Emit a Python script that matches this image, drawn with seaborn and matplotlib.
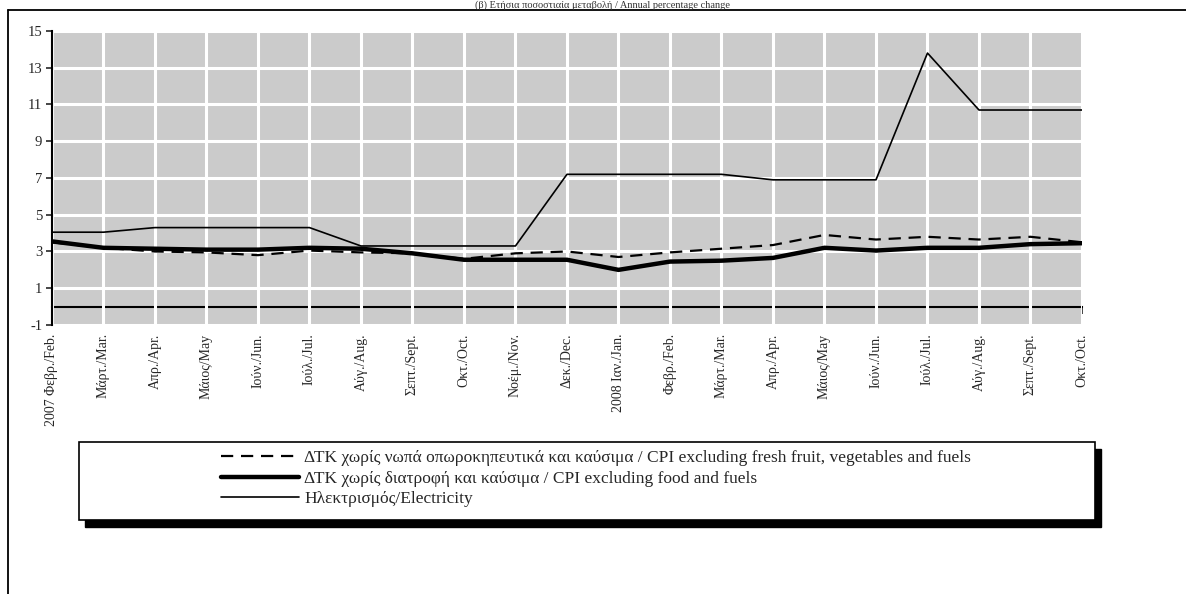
import numpy as np
import pandas as pd
import seaborn as sns
import matplotlib.pyplot as plt
from matplotlib.lines import Line2D
from matplotlib.patches import Rectangle

meses = ["2007 Φεβρ./Feb.", "Μάρτ./Mar.", "Απρ./Apr.", "Μάιος/May", "Ιούν./Jun.",
         "Ιούλ./Jul.", "Αύγ./Aug.", "Σεπτ./Sept.", "Οκτ./Oct.", "Νοέμ./Nov.",
         "Δεκ./Dec.", "2008 Ιαν./Jan.", "Φεβρ./Feb.", "Μάρτ./Mar.", "Απρ./Apr.",
         "Μάιος/May", "Ιούν./Jun.", "Ιούλ./Jul.", "Αύγ./Aug.", "Σεπτ./Sept.", "Οκτ./Oct."]

cpi_sem_frescos = [3.5, 3.2, 3.0, 2.95, 2.8, 3.05, 2.95, 2.9, 2.6, 2.9, 3.0,
                   2.7, 2.95, 3.15, 3.35, 3.9, 3.65, 3.8, 3.65, 3.8, 3.5]
cpi_sem_alimentos = [3.55, 3.2, 3.15, 3.1, 3.1, 3.2, 3.15, 2.9, 2.55, 2.55, 2.55,
                     2.0, 2.45, 2.5, 2.65, 3.2, 3.05, 3.2, 3.2, 3.4, 3.45]
eletricidade = [4.05, 4.05, 4.3, 4.3, 4.3, 4.3, 3.3, 3.3, 3.3, 3.3, 7.2,
                7.2, 7.2, 7.2, 6.9, 6.9, 6.9, 13.8, 10.7, 10.7, 10.7]

nomes = ["ΔΤΚ χωρίς νωπά οπωροκηπευτικά και καύσιμα / CPI excluding fresh fruit, vegetables and fuels",
         "ΔΤΚ χωρίς διατροφή και καύσιμα / CPI excluding food and fuels",
         "Ηλεκτρισμός/Electricity"]
titulo = "(β) Ετήσια ποσοστιαία μεταβολή / Annual percentage change"

sns.set_style("white")
plt.rcParams['font.family'] = ['Liberation Serif', 'DejaVu Serif']
plt.rcParams['axes.unicode_minus'] = False

df = pd.DataFrame({
    'mes': np.arange(len(meses)),
    'frescos': cpi_sem_frescos,
    'alimentos': cpi_sem_alimentos,
    'eletricidade': eletricidade,
})

fig = plt.figure(figsize=(11.86, 5.94), dpi=100)
ax = fig.add_axes([0.0438, 0.4529, 0.8685, 0.4949])
ax.set_facecolor('#cbcbcb')

sns.lineplot(data=df, x='mes', y='frescos', ax=ax, color='black', lw=1.6,
             label=nomes[0]).lines[-1].set_dashes((5.5, 3.5))
sns.lineplot(data=df, x='mes', y='alimentos', ax=ax, color='black', lw=3.2, label=nomes[1])
sns.lineplot(data=df, x='mes', y='eletricidade', ax=ax, color='black', lw=1.2, label=nomes[2])

ax.set_xlim(0, len(meses) - 1)
ax.set_ylim(-1, 15)
ax.set_yticks(range(-1, 16, 2))
ax.set_xticks(range(len(meses)))
ax.set_xticklabels(meses, rotation=90, fontsize=10)
ax.tick_params(axis='x', length=0, pad=6)
ax.tick_params(axis='y', direction='out', length=4, width=1.2, labelsize=10.5, pad=3, left=True)
ax.set_xlabel("")
ax.set_ylabel("")
ax.grid(True, color='white', lw=2.2)
ax.set_axisbelow(True)
for s in ['top', 'right', 'bottom']:
    ax.spines[s].set_visible(False)
ax.spines['left'].set_linewidth(1.5)
ax.spines['left'].set_color('black')

# linha do zero com marcas
zero = ax.secondary_xaxis(1 / 16)
zero.set_xticks(range(len(meses)))
zero.tick_params(direction='out', length=5, width=1.2, labelbottom=False, labeltop=False)
zero.spines['bottom'].set_linewidth(1.5)
zero.spines['bottom'].set_color('black')

# legenda com caixa e sombra
handles, labels = ax.get_legend_handles_labels()
ax.get_legend().remove()
fig.add_artist(Rectangle((0.0666 + 0.005, 0.1246 - 0.011), 0.8567, 0.1313,
                         transform=fig.transFigure, facecolor='black', edgecolor='black', zorder=1))
fig.add_artist(Rectangle((0.0666, 0.1246), 0.8567, 0.1313, transform=fig.transFigure,
                         facecolor='white', edgecolor='black', lw=1.2, zorder=2))
leg = fig.legend(handles, labels, loc='center', bbox_to_anchor=(0.5025, 0.194),
                 frameon=False, fontsize=12.5, handlelength=4.5, handletextpad=0.3,
                 labelspacing=0.25, borderpad=0)
leg.set_zorder(3)

# moldura da figura
fig.add_artist(Line2D([8 / 1186, 1], [0.983, 0.983], color='black', lw=1.3))
fig.add_artist(Line2D([8 / 1186, 8 / 1186], [0, 0.983], color='black', lw=1.3))
fig.text(0.508, 0.9995, titulo, ha='center', va='top', fontsize=7.5, color='#333333')

plt.savefig('out.png', dpi=100)
